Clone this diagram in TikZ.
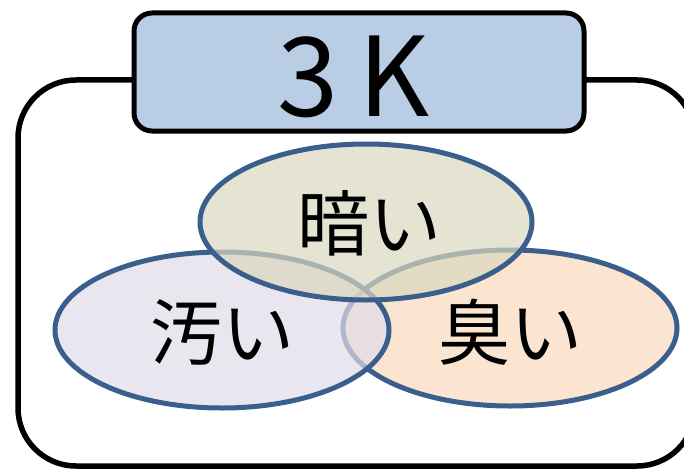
\documentclass[tikz,border=0pt]{standalone}
\usepackage{fontspec}
\setmainfont{Noto Sans CJK JP}
\definecolor{titlefill}{HTML}{B9CDE5}
\definecolor{ellstroke}{HTML}{3A5F8C}
\definecolor{topfill}{HTML}{DAD7BF}
\definecolor{leftfill}{HTML}{E0DBE9}
\definecolor{rightfill}{HTML}{FCDABD}
\tikzset{
  ell/.style={draw=ellstroke, line width=5pt, fill opacity=0.7},
  lbl/.style={font=\fontsize{72}{72}\selectfont, inner sep=0pt},
}
\begin{document}
\begin{tikzpicture}[x=1pt,y=-1pt]
\useasboundingbox (0,0) rectangle (684,468);
% outer frame
\draw[line width=5.5pt, rounded corners=58pt] (18,80) rectangle (695,466);
% title box
\node[draw, line width=5pt, fill=titlefill, rounded corners=18pt,
      minimum width=450pt, minimum height=118pt, inner sep=0pt] (title) at (359,72) {};
\node[anchor=base, inner sep=0pt, font=\fontsize{110}{110}\selectfont] (titletext) at (354,117) {3\hspace{20pt}K};
% ellipses
\fill[white] (510,328) ellipse [x radius=167pt, y radius=78pt];
\filldraw[ell, fill=rightfill] (510,328) ellipse [x radius=167pt, y radius=78pt];
\filldraw[ell, fill=leftfill] (222,330) ellipse [x radius=167pt, y radius=78pt];
\filldraw[ell, fill=topfill] (366,222) ellipse [x radius=166pt, y radius=78pt];
% labels
\node[lbl] (kurai) at (369,223) {暗い};
\node[lbl] (kitanai) at (222,332) {汚い};
\node[lbl] (kusai) at (510,332) {臭い};
\end{tikzpicture}
\end{document}
